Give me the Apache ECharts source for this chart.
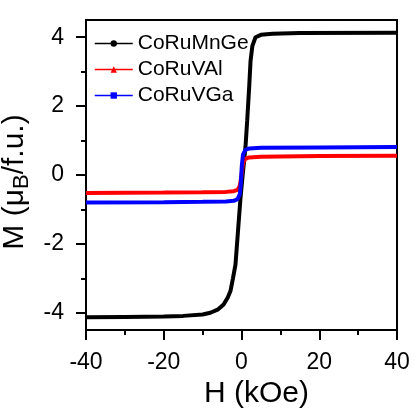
<!DOCTYPE html>
<html>
<head>
<meta charset="utf-8">
<script src="https://cdn.jsdelivr.net/npm/echarts@6/dist/echarts.min.js"></script>
<style>
  html, body { margin: 0; padding: 0; background: #fff; }
  #chart { width: 415px; height: 415px; }
</style>
</head>
<body>
<div id="chart"></div>
<script>
// 磁化曲线数据 (H in kOe, M in μB/f.u.)
const mnGeH = [-40, -30, -20, -15, -10, -8, -6, -4.6, -3.5, -2.84, -2.2, -1.55, -0.9, -0.26, 0.3, 1.03, 1.47, 2.0, 2.32, 2.8, 3.6, 5, 8, 15, 40]
const mnGeM = [-4.13, -4.12, -4.11, -4.09, -4.05, -4.0, -3.9, -3.76, -3.55, -3.37, -3.0, -2.6, -1.63, -0.67, 0.0, 0.82, 1.59, 2.6, 3.3, 3.75, 4.0, 4.07, 4.1, 4.12, 4.13]

const vAlH = [-40, -20, -10, -4, -2, -1, -0.4, 0, 0.4, 1, 2, 5, 20, 40]
const vAlM = [-0.52, -0.51, -0.5, -0.49, -0.47, -0.43, -0.3, 0.0, 0.35, 0.47, 0.51, 0.53, 0.55, 0.56]

const vGaH = [-40, -20, -10, -4, -2, -1, -0.4, -0.15, 0.1, 0.4, 1, 2, 5, 20, 40]
const vGaM = [-0.8, -0.79, -0.78, -0.77, -0.75, -0.7, -0.55, -0.2, 0.3, 0.6, 0.73, 0.77, 0.79, 0.8, 0.81]

const yMajor = [-4, -2, 0, 2, 4]
const yMinor = [-3, -1, 1, 3]

const font = 'Liberation Sans, Arial, sans-serif'
const pair = (xs, ys) => xs.map((x, i) => [x, ys[i]])

const chart = echarts.init(document.getElementById('chart'))

const makeSeries = (name, color, symbol, data) => ({
  name,
  type: 'line',
  symbol,
  symbolSize: 6,
  showSymbol: false,
  color,
  lineStyle: { color, width: 4 },
  itemStyle: { color },
  data
})

chart.setOption({
  animation: false,
  backgroundColor: '#fff',
  textStyle: { fontFamily: font },
  grid: {
    left: 86,
    right: 18,
    top: 20,
    bottom: 85,
    outerBoundsMode: 'none',
    containLabel: false,
    show: true,
    borderColor: '#000',
    borderWidth: 2
  },
  legend: {
    orient: 'vertical',
    left: 89,
    top: 28,
    itemWidth: 38,
    itemHeight: 8,
    itemGap: 5,
    textStyle: { fontSize: 21, color: '#000', fontFamily: font },
    data: [
      { name: 'CoRuMnGe', lineStyle: { width: 1.5 } },
      { name: 'CoRuVAl', lineStyle: { width: 1.5 } },
      { name: 'CoRuVGa', lineStyle: { width: 1.5 } }
    ]
  },
  xAxis: {
    type: 'value',
    min: -40,
    max: 40,
    interval: 20,
    name: 'H (kOe)',
    nameLocation: 'middle',
    nameGap: 48,
    nameTextStyle: { fontSize: 30, color: '#000', fontFamily: font, padding: [0, 0, 0, 30] },
    axisLine: { show: true, onZero: false, lineStyle: { color: '#000', width: 2 } },
    axisTick: { show: true, inside: false, length: 10, lineStyle: { color: '#000', width: 2 } },
    minorTick: { show: true, splitNumber: 2, length: 5, lineStyle: { color: '#000', width: 2 } },
    axisLabel: { fontSize: 23, color: '#000', margin: 21, fontFamily: font },
    splitLine: { show: false }
  },
  yAxis: [
    {
      type: 'value',
      min: -4.5,
      max: 4.5,
      position: 'left',
      name: '{a|M (μ}{b|B}{a|/f.u.)}',
      nameLocation: 'middle',
      nameGap: 50,
      nameRotate: 90,
      nameTextStyle: {
        padding: [0, 14, 0, 0],
        rich: {
          a: { fontSize: 30, color: '#000', fontFamily: font },
          b: { fontSize: 22, color: '#000', fontFamily: font, padding: [14, 0, 0, 0] }
        }
      },
      axisLine: { show: true, onZero: false, lineStyle: { color: '#000', width: 2 } },
      axisTick: { show: true, length: 10, customValues: yMajor, lineStyle: { color: '#000', width: 2 } },
      axisLabel: { fontSize: 23, color: '#000', margin: 22, customValues: yMajor, fontFamily: font },
      splitLine: { show: false }
    },
    {
      type: 'value',
      min: -4.5,
      max: 4.5,
      position: 'left',
      axisLine: { show: false, onZero: false },
      axisTick: { show: true, length: 5, customValues: yMinor, lineStyle: { color: '#000', width: 2 } },
      axisLabel: { show: false },
      splitLine: { show: false }
    }
  ],
  series: [
    makeSeries('CoRuMnGe', '#000000', 'circle', pair(mnGeH, mnGeM)),
    makeSeries('CoRuVAl', '#ff0000', 'triangle', pair(vAlH, vAlM)),
    makeSeries('CoRuVGa', '#0000ff', 'rect', pair(vGaH, vGaM))
  ]
})
</script>
</body>
</html>
